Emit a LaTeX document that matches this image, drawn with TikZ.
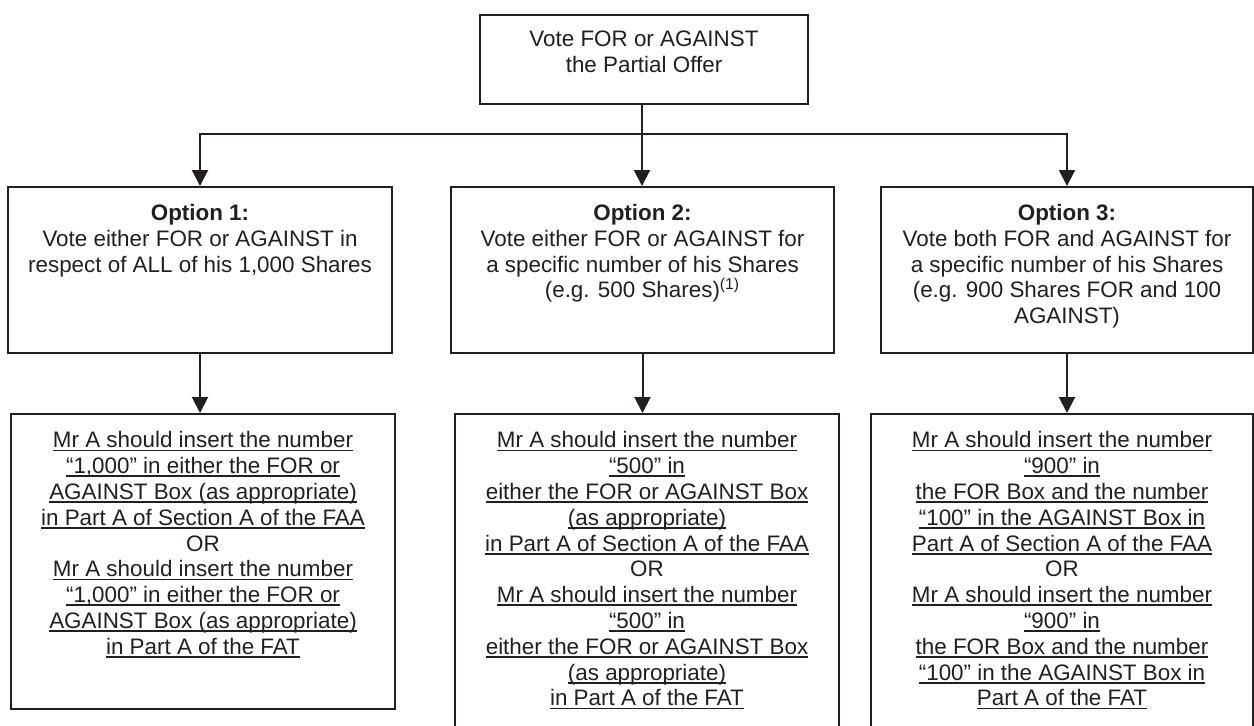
\documentclass[tikz,border=0pt]{standalone}
\usepackage{fontspec}
\setmainfont{Liberation Sans}
\usetikzlibrary{arrows.meta}

\definecolor{ink}{HTML}{231F20}

\newsavebox\undrbox
\newcommand{\undr}[1]{\leavevmode\sbox\undrbox{#1}\rlap{\rule[-1.8pt]{\wd\undrbox}{0.9pt}}\usebox\undrbox}
\newcommand{\boxlines}[4]{\parbox[c][#2][t]{#1}{\centering\vspace*{#3}#4}}

\tikzset{
    flowbox/.style={draw=ink, line width=1pt, inner sep=0pt, text=ink,
        font=\fontsize{11.2}{12.9}\selectfont},
    flowline/.style={draw=ink, line width=1pt},
    flowarrow/.style={flowline, -{Triangle[width=8pt,length=8pt]}},
}

\begin{document}
\begin{tikzpicture}[x=0.5pt, y=-0.5pt]
    \useasboundingbox (0,0) rectangle (1254,725);
    \clip (0,0) rectangle (1254,725);

    \node[flowbox] (offer) at (644,59.5) {\boxlines{164pt}{44.5pt}{7.8pt}{Vote FOR or AGAINST\\the Partial Offer}};

    \node[flowbox] (opt1) at (200,270) {\boxlines{192pt}{83pt}{8.6pt}{\textbf{Option 1:}\\Vote either FOR or AGAINST in\\respect of ALL of his 1,000 Shares}};
    \node[flowbox] (opt2) at (642.5,270) {\boxlines{191.5pt}{83pt}{8.6pt}{\textbf{Option 2:}\\Vote either FOR or AGAINST for\\a specific number of his Shares\\(e.g. 500 Shares)\textsuperscript{(1)}}};
    \node[flowbox] (opt3) at (1067,270) {\boxlines{186pt}{83pt}{8.6pt}{\textbf{Option 3:}\\Vote both FOR and AGAINST for\\a specific number of his Shares\\(e.g. 900 Shares FOR and 100\\AGAINST)}};

    \node[flowbox] (ans1) at (203,561.5) {\boxlines{192pt}{147.5pt}{8.8pt}{%
        \undr{Mr A should insert the number}\\\undr{“1,000” in either the FOR or}\\\undr{AGAINST Box (as appropriate)}\\\undr{in Part A of Section A of the FAA}\\
        OR\\\undr{Mr A should insert the number}\\\undr{“1,000” in either the FOR or}\\\undr{AGAINST Box (as appropriate)}\\\undr{in Part A of the FAT}}};
    \node[flowbox] (ans2) at (647,579) {\boxlines{192pt}{165pt}{8.8pt}{%
        \undr{Mr A should insert the number}\\\undr{“500” in}\\\undr{either the FOR or AGAINST Box}\\\undr{(as appropriate)}\\\undr{in Part A of Section A of the FAA}\\
        OR\\\undr{Mr A should insert the number}\\\undr{“500” in}\\\undr{either the FOR or AGAINST Box}\\\undr{(as appropriate)}\\\undr{in Part A of the FAT}}};
    \node[flowbox] (ans3) at (1062,579) {\boxlines{191pt}{165pt}{8.8pt}{%
        \undr{Mr A should insert the number}\\\undr{“900” in}\\\undr{the FOR Box and the number}\\\undr{“100” in the AGAINST Box in}\\\undr{Part A of Section A of the FAA}\\
        OR\\\undr{Mr A should insert the number}\\\undr{“900” in}\\\undr{the FOR Box and the number}\\\undr{“100” in the AGAINST Box in}\\\undr{Part A of the FAT}}};

    % split under the top box
    \coordinate (split) at (642,134);
    \draw[flowline] (offer.south -| split) -- (split);
    \draw[flowarrow] (split) -| (opt1.north);
    \draw[flowarrow] (split) -- (split |- opt2.north);
    \draw[flowarrow] (split) -| (opt3.north);

    \foreach \i in {1,2,3} {
        \draw[flowarrow] (opt\i.south) -- (opt\i.south |- ans\i.north);
    }
\end{tikzpicture}
\end{document}
